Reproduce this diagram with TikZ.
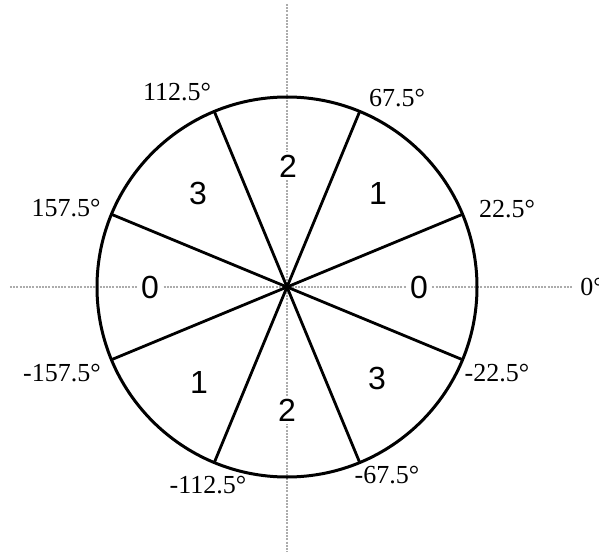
\documentclass[tikz,border=0pt]{standalone}
\usepackage{fontspec}
\setmainfont{Liberation Serif}
\newfontfamily\sectorfont{Liberation Sans}
\usetikzlibrary{positioning}

\begin{document}
\begin{tikzpicture}[
  x=0.5pt, y=0.5pt,
  axis/.style={gray!65, line width=0.6pt, dash pattern=on 1pt off 0.6pt},
  border/.style={line width=1.5pt},
  ray/.style={line width=1.4pt},
  angle/.style={font=\fontsize{13}{15}\selectfont, inner sep=0pt},
  sector/.style={font=\sectorfont\fontsize{16}{18}\selectfont, fill=white, inner sep=1.5pt},
]
\useasboundingbox (-287,-265) rectangle (312,287);

% axes
\coordinate (o) at (0,0);
\coordinate (xl) at (-277,0);
\coordinate (xr) at (285,0);
\coordinate (yt) at (0,283);
\coordinate (yb) at (0,-265);
\draw[axis] (xl) -- (xr);
\draw[axis] (yt) -- (yb);

% circle and sector borders
\draw[border] (o) circle (190);
\coordinate (a1) at (22.5:190);
\coordinate (a2) at (67.5:190);
\coordinate (a3) at (112.5:190);
\coordinate (a4) at (157.5:190);
\coordinate (a5) at (-157.5:190);
\coordinate (a6) at (-112.5:190);
\coordinate (a7) at (-67.5:190);
\coordinate (a8) at (-22.5:190);
\draw[ray] (a1) -- (a5);
\draw[ray] (a2) -- (a6);
\draw[ray] (a3) -- (a7);
\draw[ray] (a4) -- (a8);

% sector numbers
\node[sector] (s0r) at (132,0) {0};
\node[sector] (s1r) at (91,94) {1};
\node[sector] (s2t) at (1,121) {2};
\node[sector] (s3l) at (-89,94) {3};
\node[sector] (s0l) at (-137,0) {0};
\node[sector] (s1l) at (-88,-95) {1};
\node[sector] (s2b) at (0,-123) {2};
\node[sector] (s3r) at (90,-91) {3};

% angle labels
\node[angle] (l0) at (293,0) [anchor=west] {0°};
\node[angle] (l22) at (220,78) {22.5°};
\node[angle] (l67) at (110,189) {67.5°};
\node[angle] (l112) at (-110,195) {112.5°};
\node[angle] (l157) at (-221,79) {157.5°};
\node[angle] (lm157) at (-225,-86) {-157.5°};
\node[angle] (lm112) at (-79,-198) {-112.5°};
\node[angle] (lm67) at (100,-188) {-67.5°};
\node[angle] (lm22) at (210,-86) {-22.5°};
\end{tikzpicture}
\end{document}
